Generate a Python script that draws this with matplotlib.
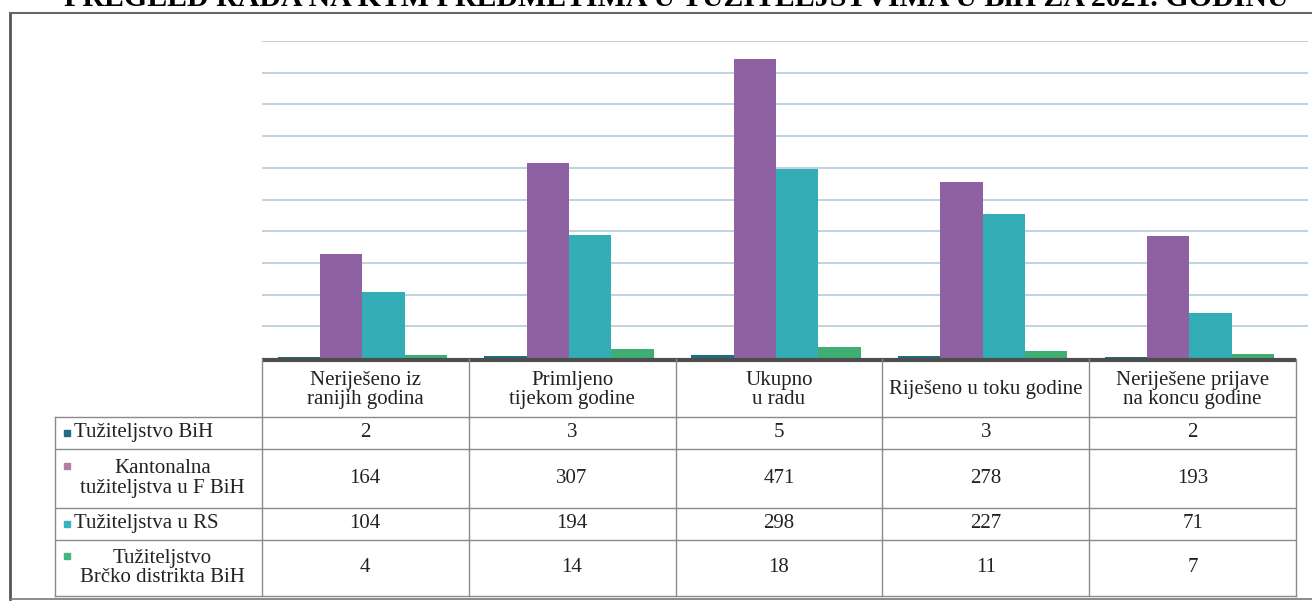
import matplotlib.pyplot as plt
import numpy as np

# data
categories = ['Neriješeno iz\nranijih godina', 'Primljeno\ntijekom godine',
              'Ukupno\nu radu', 'Riješeno u toku godine',
              'Neriješene prijave\nna koncu godine']
series_names = ['Tužiteljstvo BiH', 'Kantonalna\ntužiteljstva u F BiH',
                'Tužiteljstva u RS', 'Tužiteljstvo\nBrčko distrikta BiH']
bih = [2, 3, 5, 3, 2]
fbih = [164, 307, 471, 278, 193]
rs = [104, 194, 298, 227, 71]
brcko = [4, 14, 18, 11, 7]
values = [bih, fbih, rs, brcko]

bar_colors = ['#1d6f7e', '#8e62a2', '#33adb6', '#3fae72']
marker_colors = ['#1d6f7e', '#b47ca6', '#3ab2c2', '#45b585']

W, H = 1312, 603
fig = plt.figure(figsize=(W / 100, H / 100), dpi=100)
fig.patch.set_facecolor('white')
serif = ['Liberation Serif', 'DejaVu Serif']

def fx(px):
    return px / W

def fy(py):
    return 1 - py / H

# title, mostly cut off at the top like the scan
fig.text(fx(676), fy(6), 'PREGLED RADA NA KTM PREDMETIMA U TUŽITELJSTVIMA U BiH ZA 2021. GODINU',
         ha='center', va='baseline', fontsize=21.5, fontweight='bold', family=serif)

# outer frame
frame = fig.add_axes([0, 0, 1, 1], zorder=-1)
frame.set_xlim(0, W)
frame.set_ylim(H, 0)
frame.axis('off')
frame.plot([10, 10], [13, 599], color='#555555', lw=2)
frame.plot([10, W], [13, 13], color='#666666', lw=1.5)
frame.plot([10, W], [599, 599], color='#777777', lw=1.2)

# layout in pixels
plot_l, plot_r, grid_r = 262, 1296, 1308
top_px, base_px = 41, 358
col_w = (plot_r - plot_l) / len(categories)

# bar chart (axes runs a bit past the table so the grid reaches further right)
ax = fig.add_axes([fx(plot_l), fy(base_px), fx(grid_r) - fx(plot_l), (base_px - top_px) / H])
x = np.arange(len(categories))
w = 0.205
for i, (vals, c) in enumerate(zip(values, bar_colors)):
    ax.bar(x + (i - 1.5) * w - 0.015, vals, w, color=c, zorder=3)
ax.set_xlim(-0.5, -0.5 + (grid_r - plot_l) / col_w)
ax.set_ylim(0, 500)
ax.set_yticks(np.arange(50, 501, 50))
ax.yaxis.grid(True, color='#adc6d8', lw=1.1)
ax.set_axisbelow(True)
ax.tick_params(left=False, bottom=False, labelleft=False, labelbottom=False)
for s in ax.spines.values():
    s.set_visible(False)

# data table below the chart
tl = 55
rows_y = [359, 417, 449, 508, 540, 596]
tab = fig.add_axes([fx(tl), fy(rows_y[-1]), fx(plot_r) - fx(tl), (rows_y[-1] - rows_y[0]) / H])
tab.set_xlim(-1.5, 4.5)
tab.set_ylim(rows_y[-1], rows_y[0])
tab.axis('off')
line_c = '#8a8a8a'
fs = 15

# top border = axis baseline
tab.plot([-0.5, 4.5], [rows_y[0] + 1, rows_y[0] + 1], color='#4d4d4d', lw=3,
         solid_capstyle='butt', clip_on=False)
for y in rows_y[1:]:
    tab.plot([-1.5, 4.5], [y, y], color=line_c, lw=1, clip_on=False)
tab.plot([-1.5, -1.5], [rows_y[1], rows_y[-1]], color=line_c, lw=1, clip_on=False)
for xb in np.arange(-0.5, 4.6, 1):
    tab.plot([xb, xb], [rows_y[0], rows_y[-1]], color=line_c, lw=1, clip_on=False)

for j, cat in enumerate(categories):
    tab.text(j, (rows_y[0] + rows_y[1]) / 2 + 2, cat, ha='center', va='center',
             fontsize=fs, family=serif, linespacing=1.0, color='#222222')

for i, name in enumerate(series_names):
    y0, y1 = rows_y[i + 1], rows_y[i + 2]
    ym = (y0 + y1) / 2
    if '\n' in name:
        tab.plot(-1.44, ym - 12, marker='s', ms=4.5, color=marker_colors[i], ls='none')
        tab.text(-0.98, ym, name, ha='center', va='center', fontsize=fs,
                 family=serif, linespacing=1.05, color='#222222')
    else:
        tab.plot(-1.44, ym, marker='s', ms=4.5, color=marker_colors[i], ls='none')
        tab.text(-1.41, ym, name, ha='left', va='center', fontsize=fs,
                 family=serif, color='#222222')
    for j, v in enumerate(values[i]):
        tab.text(j, ym, str(v), ha='center', va='center', fontsize=fs,
                 family=serif, color='#222222')

fig.savefig('out.png', dpi=100, facecolor='white')
